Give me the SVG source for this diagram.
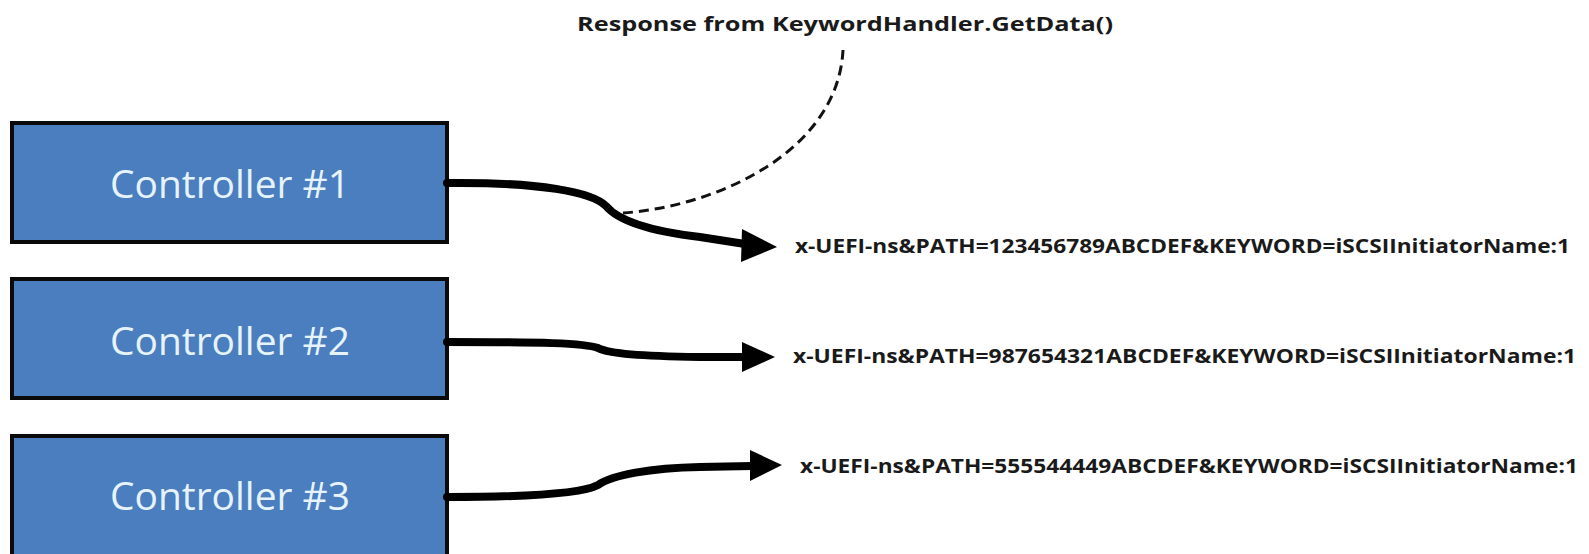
<svg xmlns="http://www.w3.org/2000/svg" width="1589" height="554" viewBox="0 0 1589 554">
<style>
.box{fill:#4a7ebe;stroke:#0a0a0a;stroke-width:4}
.ctl{font-family:"Open Sans","Liberation Sans",sans-serif;font-size:38px;fill:#e6f3fb;text-anchor:middle}
.lbl{font-family:"Open Sans","Liberation Sans",sans-serif;font-weight:bold;font-size:19px;fill:#1a1a1a}
.ttl{font-family:"Open Sans","Liberation Sans",sans-serif;font-weight:bold;font-size:20px;fill:#1a1a1a}
.wire{fill:none;stroke:#000;stroke-width:8;stroke-linecap:round}
.dash{fill:none;stroke:#111;stroke-width:3;stroke-dasharray:10 6}
</style>
<rect width="1589" height="554" fill="#fff"/>
<g id="title">
<text class="ttl" x="577" y="31" textLength="536" lengthAdjust="spacingAndGlyphs">Response from KeywordHandler.GetData()</text>
</g>
<g id="controller1">
<rect class="box" x="12" y="123" width="435" height="119"/>
<text class="ctl" x="230" y="198" textLength="240" lengthAdjust="spacingAndGlyphs">Controller #1</text>
</g>
<g id="controller2">
<rect class="box" x="12" y="279" width="435" height="119"/>
<text class="ctl" x="230" y="355" textLength="240" lengthAdjust="spacingAndGlyphs">Controller #2</text>
</g>
<g id="controller3">
<rect class="box" x="12" y="436" width="435" height="122"/>
<text class="ctl" x="230" y="510" textLength="240" lengthAdjust="spacingAndGlyphs">Controller #3</text>
</g>
<g id="label1"><text class="lbl" x="795" y="253" textLength="775" lengthAdjust="spacingAndGlyphs">x-UEFI-ns&amp;PATH=123456789ABCDEF&amp;KEYWORD=iSCSIInitiatorName:1</text></g>
<g id="label2"><text class="lbl" x="793" y="363" textLength="783" lengthAdjust="spacingAndGlyphs">x-UEFI-ns&amp;PATH=987654321ABCDEF&amp;KEYWORD=iSCSIInitiatorName:1</text></g>
<g id="label3"><text class="lbl" x="800" y="473" textLength="778" lengthAdjust="spacingAndGlyphs">x-UEFI-ns&amp;PATH=555544449ABCDEF&amp;KEYWORD=iSCSIInitiatorName:1</text></g>
<g id="connectors">
<path class="wire" d="M447,183 C540,182 592,192 606,206 C616,218 640,230 700,237 L745,244"/>
<polygon points="777,247 742,229 741,262"/>
<path class="wire" d="M447,342 C540,342 585,343 598,348 C610,354 640,356 700,357 L745,357"/>
<polygon points="775,357 742,342 742,372"/>
<path class="wire" d="M447,497 C540,497 585,492 598,485 C612,475 650,468 700,467 L752,466"/>
<polygon points="782,465 750,450 750,481"/>
<path class="dash" d="M623,213 C720,206 838,150 843,50"/>
</g>
</svg>
